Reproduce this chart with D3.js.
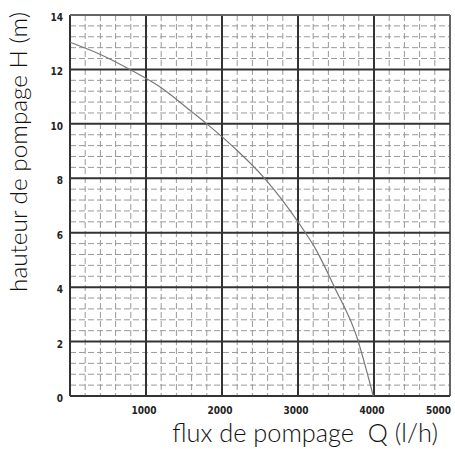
<!DOCTYPE html>
<html>
<head>
<meta charset="utf-8">
<script src="https://cdn.jsdelivr.net/npm/d3@7"></script>
<style>
  body { margin: 0; background: #fff; }
  svg { display: block; }
</style>
</head>
<body>
<div id="chart"></div>
<script>
// ===== pump curve data =====
var flow = [0, 400, 800, 1200, 1600, 1800, 2200, 2560, 3000, 3240, 3480, 3770, 3990];
var head = [13.0, 12.55, 11.98, 11.33, 10.45, 10.0, 9.02, 8.0, 6.4, 5.36, 4.0, 2.2, 0];
var xTicks = [1000, 2000, 3000, 4000, 5000];
var yTicks = [0, 2, 4, 6, 8, 10, 12, 14];

var W = 455, H = 449;
var plotL = 70, plotR = 450, plotT = 15, plotB = 396;

var svg = d3.select("#chart")
    .append("svg")
    .attr("width", W)
    .attr("height", H)

var x = d3.scaleLinear().domain([0, 5000]).range([plotL, plotR])
var y = d3.scaleLinear().domain([0, 14]).range([plotB, plotT])

// minor dashed grid
var minorX = d3.range(200, 5000, 200).filter(function(d){ return d % 1000 != 0 })
var minorY = d3.range(1, 35).map(function(i){ return i * 0.4 }).filter(function(d){ return Math.abs(d/2 - Math.round(d/2)) > 0.01 })

svg.append("g").selectAll("line")
    .data(minorX)
    .join("line")
    .attr("x1", function(d){ return x(d) })
    .attr("x2", function(d){ return x(d) })
    .attr("y1", plotT)
    .attr("y2", plotB)
    .attr("stroke", "#999")
    .attr("stroke-width", 1)
    .attr("stroke-dasharray", "6,3")

svg.append("g").selectAll("line")
    .data(minorY)
    .join("line")
    .attr("x1", plotL)
    .attr("x2", plotR)
    .attr("y1", function(d){ return y(d) })
    .attr("y2", function(d){ return y(d) })
    .attr("stroke", "#999")
    .attr("stroke-width", 1)
    .attr("stroke-dasharray", "6,3")

// major grid
svg.append("g").selectAll("line")
    .data([0].concat(xTicks))
    .join("line")
    .attr("x1", function(d){ return x(d) })
    .attr("x2", function(d){ return x(d) })
    .attr("y1", plotT)
    .attr("y2", plotB)
    .attr("stroke", function(d){ return d == 5000 ? "#666" : "#333" })
    .attr("stroke-width", 2)

svg.append("g").selectAll("line")
    .data(yTicks)
    .join("line")
    .attr("x1", plotL)
    .attr("x2", plotR)
    .attr("y1", function(d){ return y(d) })
    .attr("y2", function(d){ return y(d) })
    .attr("stroke", function(d){ return d == 14 ? "#666" : "#333" })
    .attr("stroke-width", 2)

// curve
var pts = flow.map(function(q, i){ return {q: q, h: head[i]} })
var line = d3.line()
    .x(function(d){ return x(d.q) })
    .y(function(d){ return y(d.h) })
    .curve(d3.curveMonotoneX)

svg.append("path")
    .datum(pts)
    .attr("d", line)
    .attr("fill", "none")
    .attr("stroke", "#777")
    .attr("stroke-width", 1.2)

// tick labels
var tickFont = "'DejaVu Sans Condensed', 'DejaVu Sans', sans-serif"

svg.append("g").selectAll("text")
    .data(yTicks)
    .join("text")
    .text(function(d){ return d })
    .attr("x", plotL - 7)
    .attr("y", function(d){ return y(d) + 6 })
    .attr("text-anchor", "end")
    .attr("font-family", tickFont)
    .attr("font-stretch", "condensed")
    .attr("font-weight", "bold")
    .attr("font-size", "10px")
    .attr("fill", "#222")

svg.append("g").selectAll("text")
    .data(xTicks)
    .join("text")
    .text(function(d){ return d })
    .attr("x", function(d){ return d == 5000 ? plotR + 1 : x(d) - 2 })
    .attr("y", 414)
    .attr("text-anchor", function(d){ return d == 5000 ? "end" : "middle" })
    .attr("font-family", tickFont)
    .attr("font-stretch", "condensed")
    .attr("font-weight", "bold")
    .attr("font-size", "10px")
    .attr("fill", "#222")

// axis titles
var titleFont = "Lato, 'Open Sans', sans-serif"

var xt = svg.append("text")
    .text("flux de pompage\u00a0\u00a0Q (l/h)")
    .attr("x", 438)
    .attr("y", 442)
    .attr("text-anchor", "end")
    .attr("font-family", titleFont)
    .attr("font-weight", 300)
    .attr("font-size", "21px")
    .attr("fill", "#111")
// fit to width of original title
var w = xt.node().getComputedTextLength()
xt.attr("font-size", (21 * 266 / w) + "px")

var yt = svg.append("text")
    .text("hauteur de pompage H (m)")
    .attr("transform", "translate(27," + 152 + ") rotate(-90)")
    .attr("text-anchor", "middle")
    .attr("font-family", titleFont)
    .attr("font-weight", 300)
    .attr("font-size", "20px")
    .attr("fill", "#111")
var w2 = yt.node().getComputedTextLength()
yt.attr("font-size", (20 * 280 / w2) + "px")
</script>
</body>
</html>
